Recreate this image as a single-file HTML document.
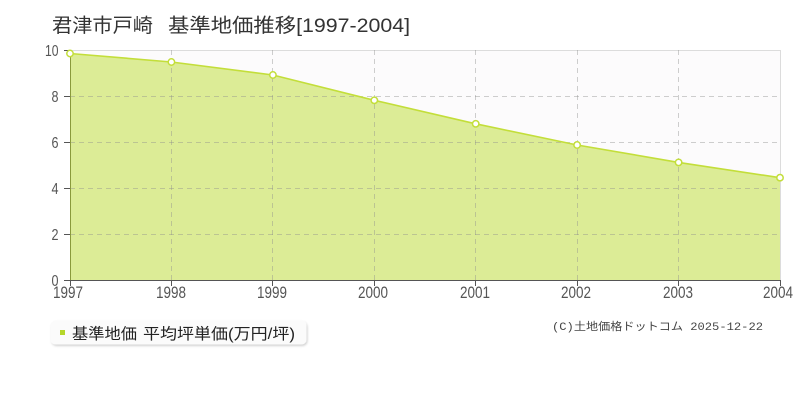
<!DOCTYPE html>
<html>
<head>
<meta charset="utf-8">
<style>
html,body{margin:0;padding:0;background:#fff;}
body{width:800px;height:400px;overflow:hidden;position:relative;}
svg{position:absolute;left:0;top:0;}
</style>
</head>
<body>
<svg width="800" height="400" viewBox="0 0 800 400" xmlns="http://www.w3.org/2000/svg">
  <defs>
    <filter id="sh" x="-5%" y="-20%" width="110%" height="150%">
      <feDropShadow dx="1" dy="1.5" stdDeviation="1" flood-color="#000" flood-opacity="0.18"/>
    </filter>
  </defs>
  <!-- title -->
  <g font-family="'Liberation Sans','Noto Sans CJK JP',sans-serif" font-size="19.5" fill="#333">
    <text x="52" y="32" textLength="101" lengthAdjust="spacingAndGlyphs">君津市戸崎</text>
    <text x="168" y="32" textLength="242" lengthAdjust="spacingAndGlyphs">基準地価推移[1997-2004]</text>
  </g>

  <!-- plot background -->
  <rect x="70" y="50" width="710" height="230" fill="#fcfbfc"/>
  <line x1="70" y1="50.5" x2="780" y2="50.5" stroke="#dcdcdc" stroke-width="1"/>
  <line x1="780.5" y1="50" x2="780.5" y2="280" stroke="#dcdcdc" stroke-width="1"/>

  <!-- area fill -->
  <polygon points="70,53.5 171.4,62 272.9,75 374.3,100.3 475.7,123.8 577.1,145 678.6,162.4 780,177.7 780,280 70,280" fill="#dcec96"/>

  <!-- grid -->
  <g stroke="#8c8c8c" stroke-opacity="0.42" stroke-width="1" stroke-dasharray="5,4">
    <line x1="70" y1="96.5" x2="780" y2="96.5"/>
    <line x1="70" y1="142.5" x2="780" y2="142.5"/>
    <line x1="70" y1="188.5" x2="780" y2="188.5"/>
    <line x1="70" y1="234.5" x2="780" y2="234.5"/>
    <line x1="171.5" y1="50" x2="171.5" y2="280"/>
    <line x1="272.5" y1="50" x2="272.5" y2="280"/>
    <line x1="374.5" y1="50" x2="374.5" y2="280"/>
    <line x1="475.5" y1="50" x2="475.5" y2="280"/>
    <line x1="577.5" y1="50" x2="577.5" y2="280"/>
    <line x1="678.5" y1="50" x2="678.5" y2="280"/>
  </g>

  <!-- series line -->
  <polyline points="70,53.5 171.4,62 272.9,75 374.3,100.3 475.7,123.8 577.1,145 678.6,162.4 780,177.7" fill="none" stroke="#c3de3a" stroke-width="1.6"/>

  <!-- axes -->
  <line x1="70.5" y1="50" x2="70.5" y2="280" stroke="#8a9a3c" stroke-width="1"/>
  <line x1="70" y1="280.5" x2="781" y2="280.5" stroke="#555" stroke-width="1"/>
  <g stroke="#555" stroke-width="1">
    <line x1="64" y1="50.5" x2="70" y2="50.5"/>
    <line x1="64" y1="96.5" x2="70" y2="96.5"/>
    <line x1="64" y1="142.5" x2="70" y2="142.5"/>
    <line x1="64" y1="188.5" x2="70" y2="188.5"/>
    <line x1="64" y1="234.5" x2="70" y2="234.5"/>
    <line x1="64" y1="280.5" x2="70" y2="280.5"/>
    <line x1="70.5" y1="280" x2="70.5" y2="286"/>
    <line x1="171.5" y1="280" x2="171.5" y2="286"/>
    <line x1="272.5" y1="280" x2="272.5" y2="286"/>
    <line x1="374.5" y1="280" x2="374.5" y2="286"/>
    <line x1="475.5" y1="280" x2="475.5" y2="286"/>
    <line x1="577.5" y1="280" x2="577.5" y2="286"/>
    <line x1="678.5" y1="280" x2="678.5" y2="286"/>
    <line x1="780.5" y1="280" x2="780.5" y2="286"/>
  </g>

  <!-- points -->
  <g fill="#fff" stroke="#c3de3a" stroke-width="1.5">
    <circle cx="70" cy="53.5" r="3.2"/>
    <circle cx="171.4" cy="62" r="3.2"/>
    <circle cx="272.9" cy="75" r="3.2"/>
    <circle cx="374.3" cy="100.3" r="3.2"/>
    <circle cx="475.7" cy="123.8" r="3.2"/>
    <circle cx="577.1" cy="145" r="3.2"/>
    <circle cx="678.6" cy="162.4" r="3.2"/>
    <circle cx="780" cy="177.7" r="3.2"/>
  </g>

  <!-- y labels -->
  <g font-family="'Liberation Sans',sans-serif" font-size="16" fill="#555" text-anchor="end">
    <text x="58.5" y="56" textLength="13.5" lengthAdjust="spacingAndGlyphs">10</text>
    <text x="58.5" y="102" textLength="7" lengthAdjust="spacingAndGlyphs">8</text>
    <text x="58.5" y="148" textLength="7" lengthAdjust="spacingAndGlyphs">6</text>
    <text x="58.5" y="194" textLength="7" lengthAdjust="spacingAndGlyphs">4</text>
    <text x="58.5" y="240" textLength="7" lengthAdjust="spacingAndGlyphs">2</text>
    <text x="58.5" y="286" textLength="7" lengthAdjust="spacingAndGlyphs">0</text>
  </g>
  <!-- x labels -->
  <g font-family="'Liberation Sans',sans-serif" font-size="17" fill="#555">
    <text x="53" y="298" textLength="30" lengthAdjust="spacingAndGlyphs">1997</text>
    <text x="156" y="298" textLength="30" lengthAdjust="spacingAndGlyphs">1998</text>
    <text x="257" y="298" textLength="30" lengthAdjust="spacingAndGlyphs">1999</text>
    <text x="358" y="298" textLength="30" lengthAdjust="spacingAndGlyphs">2000</text>
    <text x="460" y="298" textLength="30" lengthAdjust="spacingAndGlyphs">2001</text>
    <text x="561" y="298" textLength="30" lengthAdjust="spacingAndGlyphs">2002</text>
    <text x="663" y="298" textLength="30" lengthAdjust="spacingAndGlyphs">2003</text>
    <text x="763" y="298" textLength="30" lengthAdjust="spacingAndGlyphs">2004</text>
  </g>

  <!-- legend -->
  <rect x="50.5" y="320.5" width="256" height="24" rx="5" ry="5" fill="#fbfbfb" filter="url(#sh)"/>
  <rect x="60" y="330" width="5" height="5" fill="#b5d62a"/>
  <g font-family="'Liberation Sans','Noto Sans CJK JP',sans-serif" font-size="15.5" fill="#222">
    <text x="72" y="339" textLength="65" lengthAdjust="spacingAndGlyphs">基準地価</text>
    <text x="143" y="339" textLength="152" lengthAdjust="spacingAndGlyphs">平均坪単価(万円/坪)</text>
  </g>

  <!-- copyright -->
  <text x="552" y="330" font-family="'Liberation Mono','Noto Sans CJK JP',monospace" font-size="11" fill="#444" textLength="211" lengthAdjust="spacingAndGlyphs">(C)土地価格ドットコム 2025-12-22</text>
</svg>
</body>
</html>
